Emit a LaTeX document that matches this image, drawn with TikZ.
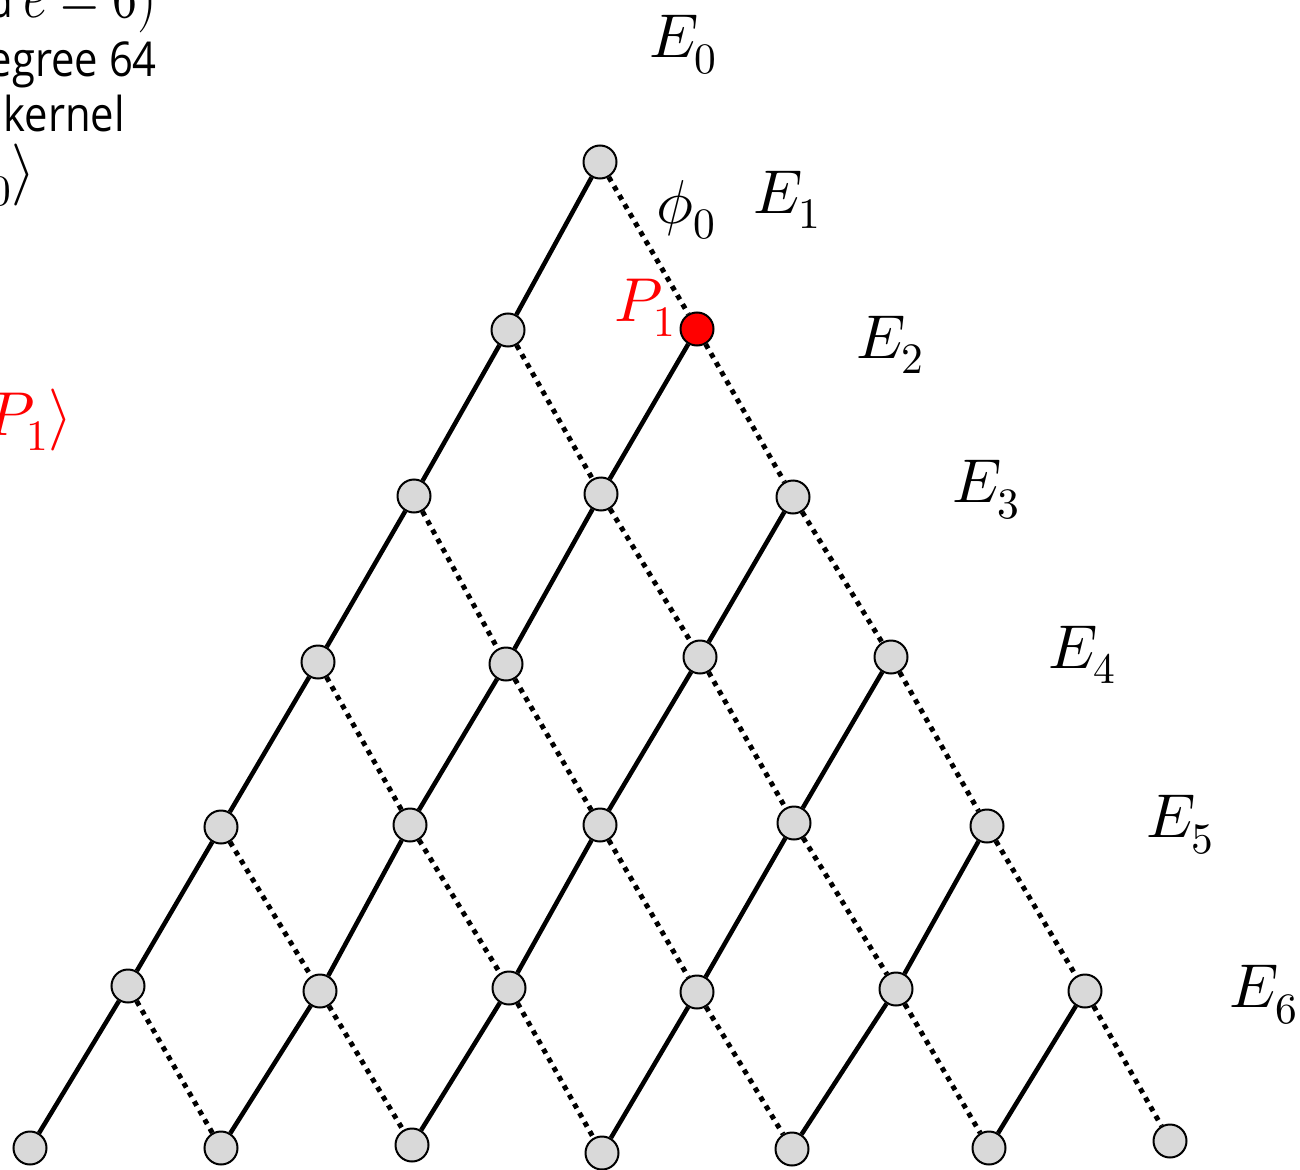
\documentclass[tikz,border=0pt]{standalone}
\usepackage{fontspec}
\usepackage{unicode-math}
\setmainfont{Open Sans}
\setmathfont{Latin Modern Math}
\begin{document}
\begin{tikzpicture}[x=1pt,y=-1pt,
  vert/.style={circle,draw=black,line width=2pt,fill=black!15,minimum size=33pt,inner sep=0pt},
  redv/.style={vert,fill=red},
  solidedge/.style={line width=4.5pt},
  dotedge/.style={line width=5pt,dash pattern=on 5pt off 5.5pt},
  lab/.style={inner sep=0pt,font=\fontsize{62}{70}\selectfont},
  side/.style={inner sep=0pt,anchor=base east,font=\fontsize{48}{56}\selectfont}]
\useasboundingbox (0,0) rectangle (1300,1169);
\clip (0,0) rectangle (1300,1169);
% lattice nodes
\foreach \nm/\px/\py in {00/600/162,
  10/508/330,
  20/414/496,21/601/494,22/793/497,
  30/318/662,31/506/664,32/700/657,33/891/657,
  40/221/827,41/410/825,42/600/825,43/794/823,44/987/826,
  50/128/986,51/320/991,52/509/988,53/697/992,54/896/989,55/1085/991,
  60/30/1148,61/221/1148,62/412/1145,63/602/1153,64/792/1149,65/989/1148,66/1170/1141}
  {\node[vert] (n\nm) at (\px,\py) {};}
\node[redv] (n11) at (697,329) {};
% edges
\foreach \i in {0,...,5}{
  \foreach \j in {0,...,\i}{
    \pgfmathtruncatemacro\k{\i+1}
    \pgfmathtruncatemacro\l{\j+1}
    \draw[solidedge] (n\i\j) -- (n\k\j);
    \draw[dotedge] (n\i\j) -- (n\k\l);
  }
}
% labels
\node[lab] (e0) at (683,45) {$E_0$};
\node[lab] (e1) at (787,200) {$E_1$};
\node[lab] (e2) at (890,345) {$E_2$};
\node[lab] (e3) at (986,490) {$E_3$};
\node[lab] (e4) at (1082,655) {$E_4$};
\node[lab] (e5) at (1180,825) {$E_5$};
\node[lab,anchor=east] (e6) at (1298,995) {$E_6$};
\node[lab] (phi) at (686,210) {$\phi_0$};
\node[lab,text=red] (p1) at (645,308) {$P_1$};
% cut-off text on the left
\node[side] (t1) at (157,18) {\scalebox{0.8}[1]{d \fontsize{62}{70}\selectfont$e = 6)$}};
\node[side] (t2) at (157,77) {\scalebox{0.87}[1]{egree 64}};
\node[side] (t3) at (125,132) {\scalebox{0.87}[1]{kernel}};
\node[side,font=\fontsize{62}{70}\selectfont] (t4) at (36,190) {$P_0\rangle$};
\node[side,font=\fontsize{62}{70}\selectfont,text=red] (t5) at (73,435) {$P_1\rangle$};
\end{tikzpicture}
\end{document}
